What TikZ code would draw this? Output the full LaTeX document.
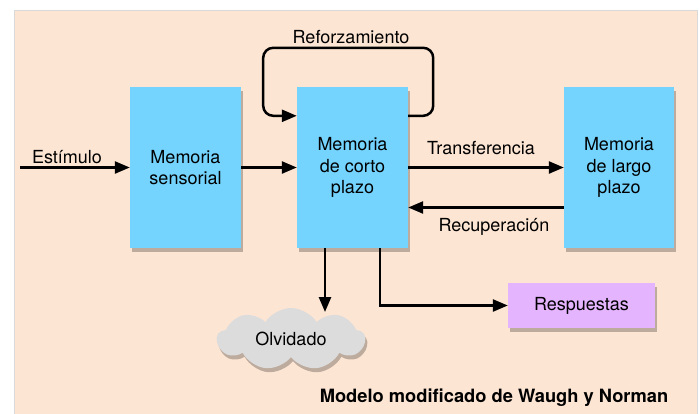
\documentclass[tikz,border=0pt]{standalone}
\usepackage{fontspec}
\setmainfont{TeX Gyre Heros}
\usetikzlibrary{arrows.meta,shapes.symbols,shadows,calc}
\definecolor{peach}{HTML}{FDE5D3}
\definecolor{memblue}{HTML}{74D4FE}
\definecolor{respviolet}{HTML}{E5B4FE}
\definecolor{cloudgrey}{HTML}{DCDCDC}
\begin{document}
\begin{tikzpicture}[x=1pt,y=-1pt]

      \tikzset{memory/.style={fill=memblue, minimum width=111pt, minimum height=161pt, align=center, inner sep=0pt,
                              drop shadow={shadow xshift=2pt, shadow yshift=-4pt, fill=black, opacity=0.25}},
               txt/.style={font=\fontsize{18}{21.5}\selectfont},
               flow/.style={line width=2.5pt, -{Triangle[length=15pt,width=12pt]}}}
      \useasboundingbox (0,0) rectangle (699,413);
%% Background
      	\fill[white] (0,0) rectangle (699,413);
      	\filldraw[fill=peach, draw=black!15] (14,10) rectangle (697,420);
%% Boxes
      	\node[memory, txt] (sens) at (185.5,167.5) {Memoria\\sensorial};
      	\node[memory, txt] (corto) at (352.5,167.5) {Memoria\\de corto\\plazo};
      	\node[memory, txt, minimum width=110pt] (largo) at (619,167.5) {Memoria\\de largo\\plazo};
      	\node[memory, txt, fill=respviolet, minimum width=147pt, minimum height=45pt] (resp) at (581.5,305.5) {Respuestas};
      	\node[cloud, cloud puffs=9, cloud puff arc=115, aspect=2.3, fill=cloudgrey, minimum width=148pt, minimum height=62pt,
      	      inner sep=0pt, txt, drop shadow={shadow xshift=2pt, shadow yshift=-4pt, fill=black, opacity=0.25}] (olv) at (291,339) {Olvidado};
%% Labels
      	\node[txt] (estl) at (67,157) {Estímulo};
      	\node[txt] (refl) at (351,37) {Reforzamiento};
      	\node[txt] (transl) at (481,148) {Transferencia};
      	\node[txt] (recl) at (494,227) {Recuperación};
      	\node[txt, font=\fontsize{18.3}{21.5}\selectfont\bfseries] (model) at (494,398) {Modelo modificado de Waugh y Norman};
%% Free ends
      	\coordinate (est) at (20,167.5);
      	\coordinate (olvtop) at (325,312);
      	\coordinate (rbend) at (380,305.5);
      	\coordinate (r1) at ($(corto.north east)+(0,29)$);
      	\coordinate (r2) at ($(corto.north west)+(0,29)$);
%Edges
		\draw[flow] (est) -- (sens.west);
		\draw[flow] (sens.east) -- (corto.west);
		\draw[flow] (corto.east) -- (largo.west);
		\draw[flow] ($(largo.west)+(0,40)$) -- ($(corto.east)+(0,40)$);
		\draw[flow, rounded corners=10pt] (r1) -| ++(25,-68) -| ++(-170,68) -- (r2);
		\draw[flow] (corto.south -| olvtop) -- (olvtop);
		\draw[flow] (corto.south -| rbend) |- (resp.west);

	\end{tikzpicture}
\end{document}
